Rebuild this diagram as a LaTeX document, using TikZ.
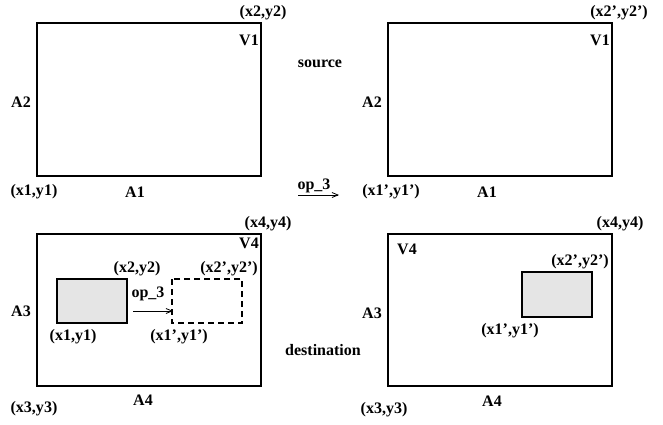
\documentclass[tikz,border=0pt]{standalone}
\usepackage{fontspec}
\setmainfont{Liberation Serif}
\usetikzlibrary{arrows.meta}
\tikzset{
  lbl/.style={font=\fontsize{16}{19}\selectfont\bfseries, inner sep=0pt},
  frame/.style={draw, line width=1.1pt},
  patch/.style={draw, line width=1.1pt, fill=gray!20},
  ghost/.style={draw, line width=1.1pt, dash pattern=on 6pt off 4pt},
  move/.style={-{Straight Barb[length=6pt,width=5pt]}, line width=0.8pt},
}
\begin{document}
\begin{tikzpicture}[x=1pt,y=-1pt]
	\useasboundingbox (0,0) rectangle (663,424);
	% source
	\draw[frame] (37,23) rectangle (261,176);
	\draw[frame] (388,23) rectangle (612,176);
	\node[lbl] (sxy2) at (263,13) {(x2,y2)};
	\node[lbl] (sv1) at (249,40) {V1};
	\node[lbl] (sa2) at (21,102) {A2};
	\node[lbl] (sxy1) at (34,192) {(x1,y1)};
	\node[lbl] (sa1) at (135,192) {A1};
	\node[lbl] (txy2) at (619,13) {(x2',y2')};
	\node[lbl] (tv1) at (600,40) {V1};
	\node[lbl] (ta2) at (372,102) {A2};
	\node[lbl] (txy1) at (391,192) {(x1',y1')};
	\node[lbl] (ta1) at (487,192) {A1};
	\node[lbl] (src) at (320,64) {source};
	\node[lbl] (op) at (314,186) {op\_3};
	\coordinate (opa) at (298,195);
	\coordinate (opb) at (339,195);
	\draw[move] (opa) -- (opb);
	% destination
	\draw[frame] (37,234) rectangle (261,386);
	\draw[frame] (388,234) rectangle (612,386);
	\draw[patch] (57,279) rectangle (127,323);
	\draw[ghost] (172,279) rectangle (242,323);
	\draw[patch] (522,272) rectangle (592,317);
	\node[lbl] (dxy4) at (268,224) {(x4,y4)};
	\node[lbl] (dv4) at (249,243) {V4};
	\node[lbl] (dxy2) at (137,269) {(x2,y2)};
	\node[lbl] (dxy2b) at (229,269) {(x2',y2')};
	\node[lbl] (dop) at (148,294) {op\_3};
	\node[lbl] (da3) at (21,311) {A3};
	\node[lbl] (dxy1) at (73,337) {(x1,y1)};
	\node[lbl] (dxy1b) at (179,337) {(x1',y1')};
	\node[lbl] (dxy3) at (34,409) {(x3,y3)};
	\node[lbl] (da4) at (143,400) {A4};
	\coordinate (dopa) at (133,311);
	\coordinate (dopb) at (173,311);
	\draw[move] (dopa) -- (dopb);
	\node[lbl] (dst) at (323,350) {destination};
	\node[lbl] (exy4) at (620,224) {(x4,y4)};
	\node[lbl] (ev4) at (407,249) {V4};
	\node[lbl] (exy2) at (580,262) {(x2',y2')};
	\node[lbl] (ea3) at (372,313) {A3};
	\node[lbl] (exy1) at (510,331) {(x1',y1')};
	\node[lbl] (exy3) at (384,410) {(x3,y3)};
	\node[lbl] (ea4) at (492,401) {A4};
\end{tikzpicture}
\end{document}
